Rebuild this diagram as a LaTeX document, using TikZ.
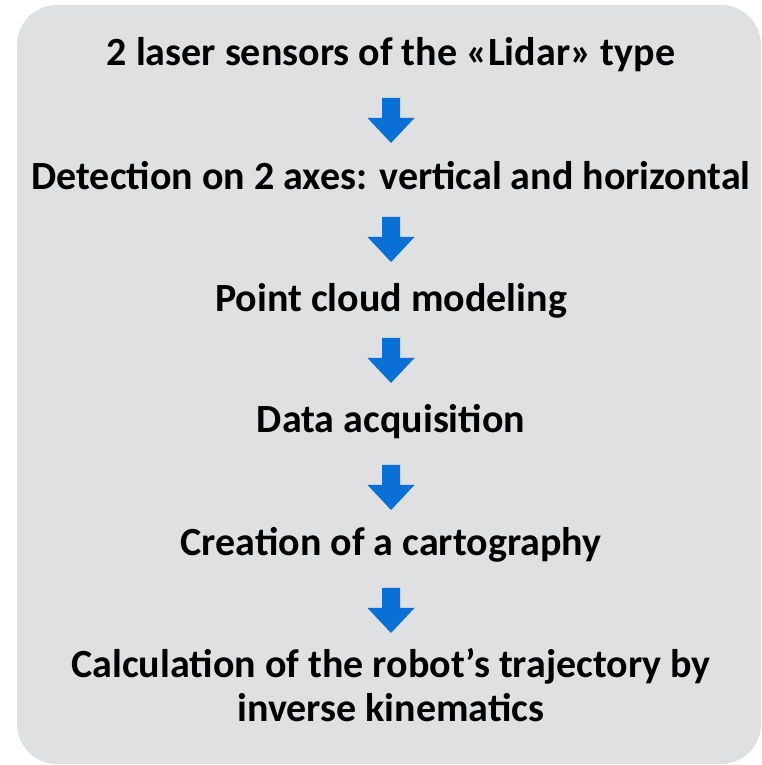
\documentclass[tikz,border=0pt]{standalone}
\usepackage{fontspec}
\setmainfont{Carlito}
\usepackage{tikz}
\definecolor{panelgray}{HTML}{DFE0E2}
\definecolor{arrowblue}{HTML}{0A70D6}

% block arrow pointing down, #1 = coordinate at the top of the shaft
\newcommand{\blockarrow}[1]{%
  \fill[arrowblue] ([xshift=-9pt]#1) -- ([xshift=9pt]#1) -- ([shift={(9pt,-20pt)}]#1)
    -- ([shift={(23.5pt,-20pt)}]#1) -- ([yshift=-45pt]#1)
    -- ([shift={(-23.5pt,-20pt)}]#1) -- ([shift={(-9pt,-20pt)}]#1) -- cycle;}

\begin{document}
\begin{tikzpicture}[x=1pt, y=1pt,
    steptext/.style={anchor=base, inner sep=0pt, align=center,
      font=\fontsize{40}{44}\selectfont\bfseries}]
    \useasboundingbox (0,0) rectangle (762,765);
    % panel
    \fill[panelgray, rounded corners=40pt] (17,1) rectangle (761,760);

    % steps
    \node[steptext] (lidar) at (391,699) {2 laser sensors of the «Lidar» type};
    \node[steptext] (axes) at (391,575) {Detection on 2 axes: vertical and horizontal};
    \node[steptext] (cloud) at (391,453) {Point cloud modeling};
    \node[steptext] (acq) at (391,332) {Data acquisition};
    \node[steptext] (carto) at (391,209) {Creation of a cartography};
    % base of a two-line node sits on its last line
    \node[steptext] (traj) at (391,43) {Calculation of the robot’s trajectory by\\inverse kinematics};

    % arrows
    \coordinate (a1) at (391,667);
    \coordinate (a2) at (391,548);
    \coordinate (a3) at (391,427);
    \coordinate (a4) at (391,300);
    \coordinate (a5) at (391,177);
    \blockarrow{a1}
    \blockarrow{a2}
    \blockarrow{a3}
    \blockarrow{a4}
    \blockarrow{a5}
\end{tikzpicture}
\end{document}
